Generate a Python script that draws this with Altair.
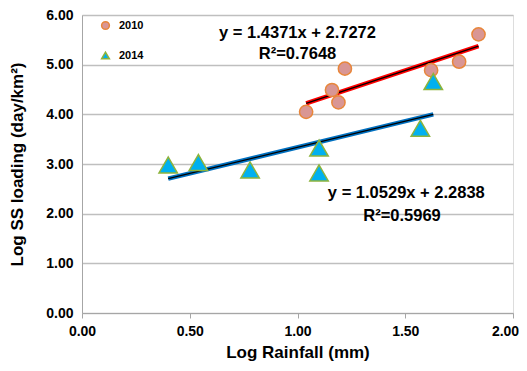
import altair as alt
import pandas as pd

# 2010 observations
x2010 = [1.04, 1.16, 1.19, 1.22, 1.62, 1.75, 1.84]
y2010 = [4.05, 4.49, 4.24, 4.92, 4.89, 5.06, 5.61]
# 2014 observations
x2014 = [0.40, 0.54, 0.78, 1.10, 1.10, 1.57, 1.63]
y2014 = [2.98, 3.03, 2.88, 3.32, 2.82, 3.72, 4.66]

years = ["2010", "2014"]
slopes = [1.4371, 1.0529]
intercepts = [2.7272, 2.2838]
fills = ["#D99694", "#00B0F0"]
strokes = ["#E8863A", "#8DB33C"]
line_colors = ["#FF0000", "#0070C0"]

ann_text = ["y = 1.4371x + 2.7272", "R\u00b2=0.7648", "y = 1.0529x + 2.2838", "R\u00b2=0.5969"]
ann_x = [1.00, 1.00, 1.505, 1.485]
ann_y = [5.64, 5.22, 2.42, 1.96]

p2010 = pd.DataFrame({"x": x2010, "y": y2010, "year": "2010"})
p2014 = pd.DataFrame({"x": x2014, "y": y2014, "year": "2014"})

rows = []
for yr, xs_, m, b in [("2010", x2010, slopes[0], intercepts[0]), ("2014", x2014, slopes[1], intercepts[1])]:
    for xv in (min(xs_), max(xs_)):
        rows.append({"x": xv, "y": m * xv + b, "year": yr})
lines = pd.DataFrame(rows)
ann = pd.DataFrame({"x": ann_x, "y": ann_y, "t": ann_text})

xs = alt.Scale(domain=[0, 2])
ys = alt.Scale(domain=[0, 6])

xaxis = alt.Axis(values=[0, 0.5, 1, 1.5, 2], format=".2f", grid=False, title="Log Rainfall (mm)",
                 labelFont="Liberation Sans", labelFontWeight="bold", labelFontSize=14, labelColor="#000",
                 titleFont="Liberation Sans", titleFontSize=17, titleFontWeight="bold", titleColor="#000",
                 titlePadding=6, labelPadding=6, tickSize=5, tickColor="#A6A6A6", domainColor="#A6A6A6",
                 labelFlush=False,
                 labelOffset={"condition": {"test": "datum.value == 2", "value": -8}, "value": 0})
yaxis = alt.Axis(values=[0, 1, 2, 3, 4, 5, 6], format=".2f", grid=True, gridColor="#BFBFBF", gridWidth=1.3,
                 title="Log SS loading (day/km\u00b2)", ticks=False,
                 labelFont="Liberation Sans", labelFontWeight="bold", labelFontSize=14, labelColor="#000",
                 titleFont="Liberation Sans", titleFontSize=17, titleFontWeight="bold", titleColor="#000",
                 labelPadding=9, titlePadding=19, domainColor="#A6A6A6", labelFlush=False)

base_x = alt.X("x:Q", scale=xs, axis=xaxis)
base_y = alt.Y("y:Q", scale=ys, axis=yaxis)

leg = alt.Legend(
    title=None, orient="none", legendX=18, legendY=5, symbolSize=60, rowPadding=16,
    labelFont="Liberation Sans", labelFontWeight="bold", labelFontSize=11, labelColor="#000",
    symbolStrokeWidth=1.5, symbolOpacity=1, labelOffset=8)

fill_enc = alt.Fill("year:N", scale=alt.Scale(domain=years, range=fills), legend=leg)
stroke_enc = alt.Stroke("year:N", scale=alt.Scale(domain=years, range=strokes), legend=leg)
shape_enc = alt.Shape("year:N", scale=alt.Scale(domain=years, range=["circle", "triangle-up"]), legend=leg)

thick = alt.Chart(lines).mark_line(strokeWidth=4.5).encode(
    x=base_x, y=base_y, detail="year:N",
    color=alt.Color("year:N", scale=alt.Scale(domain=years, range=line_colors), legend=None),
)
thin = alt.Chart(lines).mark_line(strokeWidth=1.3, color="#000000").encode(
    x="x:Q", y="y:Q", detail="year:N",
)

circles = alt.Chart(p2010).mark_point(filled=False, strokeWidth=1.5, opacity=1, fillOpacity=1, size=175).encode(
    x="x:Q", y="y:Q", fill=fill_enc, stroke=stroke_enc, shape=shape_enc,
)
triangles = alt.Chart(p2014).mark_point(filled=False, strokeWidth=1.5, opacity=1, fillOpacity=1, size=340).encode(
    x="x:Q", y="y:Q", fill=fill_enc, stroke=stroke_enc, shape=shape_enc,
)

text = alt.Chart(ann).mark_text(font="Liberation Sans", fontWeight="bold", fontSize=16.5, color="#000").encode(
    x="x:Q", y="y:Q", text="t:N",
)

chart = alt.layer(thick, thin, circles, triangles, text).resolve_scale(
    color="independent"
).properties(
    width=431, height=298,
    padding={"left": 74, "top": 7, "right": 6, "bottom": 50},
    autosize=alt.AutoSizeParams(type="none"),
).configure_view(stroke=None).configure(background="white")

chart.save("out.html", embed_options={"renderer": "svg", "actions": False})
